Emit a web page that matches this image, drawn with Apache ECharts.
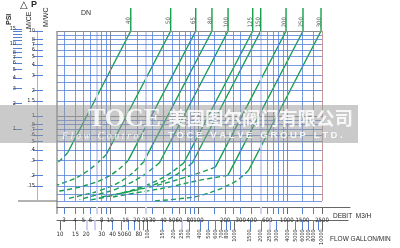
<!DOCTYPE html>
<html>
<head>
<meta charset="utf-8">
<script src="https://cdn.jsdelivr.net/npm/echarts@6/dist/echarts.min.js"></script>
<style>
html, body { margin: 0; padding: 0; background: #fff; }
#chart { width: 400px; height: 248px; }
</style>
</head>
<body>
<div id="chart"></div>
<script>
// valve sizes (DN) and where each curve meets 10 m
const sizes = ['40', '50', '65', '80', '100', '125', '150', '200', '250', '300']
const topFlow = [17.1, 48.4, 93, 142, 216, 411, 506, 979, 1524, 2437]
// end of the solid part [flow m3/h, head m]
const solidEnd = [[3.3, 0.37], [9, 0.35], [16, 0.3], [24, 0.29], [36, 0.28],
  [68, 0.28], [85, 0.28], [155, 0.25], [215, 0.2], [369, 0.23]]
// dashed part
const dashPts = [
  [[2.8, 0.31], [2.5, 0.28]],
  [[6, 0.24], [4, 0.185], [2.5, 0.154]],
  [[10, 0.2], [5, 0.15], [2.5, 0.13]],
  [[15, 0.185], [8, 0.135], [4.5, 0.115], [3.2, 0.106]],
  [[22, 0.19], [12, 0.14], [7, 0.118], [4.5, 0.104]],
  [[40, 0.19], [20, 0.14], [10, 0.115], [6, 0.103]],
  [[50, 0.19], [25, 0.145], [12, 0.12], [7, 0.106]],
  [[96, 0.21], [40, 0.16], [17, 0.13], [8, 0.112]],
  [[99, 0.174], [45, 0.145], [20, 0.125], [10, 0.11]],
  [[257, 0.168], [112, 0.118], [60, 0.106], [30, 0.1]],
]
const labelHead = 14.6
const stemHead = 18.6

// scales
const debitLabels = [3, 4, 5, 6, 8, 10, 15, 20, 25, 30, 40, 50, 60, 80, 100, 200, 300, 400, 600, 1000, 1500, 2500]
const flowBlue = [3, 4, 5, 6, 8, 9, 15, 20, 30, 40, 50, 60, 70, 80, 90, 150, 200, 250, 300, 400, 600, 700, 800, 900, 1500, 2000]
const flowLav = [7, 25, 500]
const flowDark = [10, 100, 1000, 2500]
const gpmFlat = [10, 15, 20, 30, 40, 50, 60, 80]
const gpmRot = [100, 150, 200, 250, 300, 400, 500, 600, 700, 800, 1000, 1500, 2000, 2500, 3000, 4000, 5000, 6000, 7000, 8000, 10000]
const gpmBlue = [15, 30, 40, 50, 60, 70, 80, 90, 150, 200, 300, 400, 500, 600, 700, 800, 900, 1500, 2000, 3000, 4000, 5000, 6000, 7000, 8000, 9000]
const gpmLav = [20, 25, 250, 2500]
const gpmDark = [10, 100, 1000, 10000]
const headBlue = [9, 8, 7, 6, 5, 4, 3, 2.5, 2, 1.5, 0.9, 0.8, 0.7, 0.6, 0.5, 0.4, 0.3, 0.2, 0.15, 0.12, 0.1]
const headDark = [10, 1]
const mceLabels = [10, 8, 7, 6, 5, 4, 3, 2, 1.5, 1, 0.8, 0.7, 0.6, 0.5, 0.4, 0.3, 0.2, 0.15]
const psiLabels = [15, 10, 8, 7, 6, 5, 4, 3, 2, 1]
const psiTicks = [15, 14, 13, 12, 11, 10, 9, 8, 7, 6, 5, 4, 3, 2, 1]

const BLUE = '#5580d6'
const LAV = '#cfd1f0'
const DARK = '#8c8c8c'
const GREEN = '#15a04c'
const TXT = '#2b2b2b'
const FONT = '"Liberation Sans Narrow", "DejaVu Sans Condensed", "Liberation Sans", sans-serif'

const fmt = (v) => (v < 1 ? String(v).replace(/^0/, '') : String(v))

const chart = echarts.init(document.getElementById('chart'))

function logAxis(grid, min, max, extra) {
  return Object.assign({
    type: 'log', gridIndex: grid, min, max, logBase: 10,
    axisLine: { show: false }, axisTick: { show: false },
    axisLabel: { show: false }, splitLine: { show: false },
  }, extra || {})
}
function tickAxis(grid, min, max, vals, color, width, len) {
  return logAxis(grid, min, max, {
    position: 'bottom',
    axisTick: { show: true, customValues: vals, length: len, lineStyle: { color, width } },
  })
}
function lines(key, vals, color, width) {
  return {
    type: 'line', xAxisIndex: 0, yAxisIndex: 0, data: [], silent: true, z: 1,
    markLine: {
      silent: true, symbol: 'none', animation: false,
      label: { show: false },
      lineStyle: { color, width, type: 'solid' },
      data: vals.map((v) => ({ [key]: v })),
    },
  }
}
const dummy = (grid) => ({ type: 'value', gridIndex: grid, show: false, min: 0, max: 1 })

const dMin = 2.5, dMax = 5187
const gMin = 9.24, gMax = 19860

const xAxis = [
  logAxis(0, 2.5, 2500, { position: 'bottom' }),
  dummy(1),
  // DEBIT m3/h axis
  logAxis(2, dMin, dMax, {
    position: 'bottom', offset: 4,
    axisLine: { show: true, lineStyle: { color: '#666', width: 1 } },
    axisLabel: { show: true, customValues: debitLabels, formatter: fmt, margin: 6, fontSize: 6, color: TXT, fontFamily: FONT },
  }),
  tickAxis(2, dMin, dMax, flowBlue, BLUE, 1, 7),
  tickAxis(2, dMin, dMax, flowLav, LAV, 2, 7),
  tickAxis(2, dMin, dMax, flowDark, '#666', 1, 7),
  // gallon / min axis
  logAxis(3, gMin, gMax, {
    position: 'bottom', offset: 5,
    axisLine: { show: true, lineStyle: { color: '#666', width: 1 } },
    axisLabel: { show: true, customValues: gpmFlat, formatter: fmt, margin: 6, fontSize: 6, color: TXT, fontFamily: FONT },
  }),
  logAxis(3, gMin, gMax, {
    position: 'bottom', offset: 5,
    axisLabel: { show: true, customValues: gpmRot, formatter: fmt, margin: 4, rotate: 90, fontSize: 5.5, color: TXT, fontFamily: FONT },
  }),
  tickAxis(3, gMin, gMax, gpmBlue, BLUE, 1, 10),
  tickAxis(3, gMin, gMax, gpmLav, LAV, 2, 10),
  tickAxis(3, gMin, gMax, gpmDark, '#666', 1, 10),
]

const yAxis = [
  logAxis(0, 0.1, 10, { position: 'left' }),
  // M/CE scale
  logAxis(0, 0.1, 10, {
    position: 'left', offset: 20,
    axisLine: { show: true, lineStyle: { color: '#b4b4b4', width: 1 } },
    axisTick: { show: true, customValues: mceLabels, length: 4, lineStyle: { color: BLUE } },
    axisLabel: { show: true, customValues: mceLabels, formatter: fmt, margin: 2, fontSize: 5.5, color: TXT, fontFamily: FONT },
  }),
  logAxis(0, 0.1, 10, {
    position: 'left', offset: 20,
    axisTick: { show: true, inside: true, customValues: mceLabels, length: 6, lineStyle: { color: BLUE } },
  }),
  // PSI scale
  logAxis(1, 0.1422, 16.73, {
    position: 'left',
    axisTick: { show: true, customValues: psiTicks, length: 5, lineStyle: { color: BLUE } },
    axisLabel: { show: true, customValues: psiLabels, formatter: fmt, margin: 2, fontSize: 5.5, color: TXT, fontFamily: FONT },
  }),
  logAxis(1, 0.1422, 16.73, {
    position: 'left',
    axisTick: { show: true, inside: true, customValues: psiTicks, length: 4, lineStyle: { color: BLUE } },
  }),
  dummy(2),
  dummy(3),
]

const series = [
  lines('xAxis', flowBlue, BLUE, 0.8),
  lines('xAxis', flowLav, LAV, 2),
  lines('xAxis', [10, 100, 1000], DARK, 1),
  lines('xAxis', [2500], '#c39a96', 1),
  lines('yAxis', headBlue, BLUE, 0.8),
  lines('yAxis', headDark, DARK, 1),
]

sizes.forEach((dn, i) => {
  series.push({
    type: 'line', xAxisIndex: 0, yAxisIndex: 0, clip: false, silent: true, z: 3,
    showSymbol: false, animation: false,
    lineStyle: { color: GREEN, width: 1.4 },
    data: [[topFlow[i], stemHead], [topFlow[i], 10], solidEnd[i]],
  })
  series.push({
    type: 'line', xAxisIndex: 0, yAxisIndex: 0, clip: false, silent: true, z: 3,
    showSymbol: false, smooth: 0.4, animation: false,
    lineStyle: { color: GREEN, width: 1.4, type: [5, 3] },
    data: [solidEnd[i]].concat(dashPts[i]),
  })
})

series.push({
  type: 'scatter', xAxisIndex: 0, yAxisIndex: 0, clip: false, silent: true,
  symbolSize: 0, animation: false,
  data: sizes.map((dn, i) => [topFlow[i], labelHead, dn]),
  label: {
    show: true, position: 'left', distance: 2, rotate: 90,
    formatter: (p) => p.value[2], fontSize: 6, color: TXT, fontFamily: FONT,
  },
})

const txt = (text, x, y, font, extra) => Object.assign({
  type: 'text', x, y, silent: true, z: 50,
  style: { text, font, fill: TXT },
}, extra || {})
const wm = (text, x, y, font) => ({
  type: 'text', x, y, silent: true, z: 41,
  style: { text, font, fill: 'rgba(255,255,255,0.85)' },
})

chart.setOption({
  animation: false,
  backgroundColor: '#fff',
  grid: [
    { left: 57, top: 31, width: 265, height: 170 },
    { left: 18, top: 25, width: 10, height: 176 },
    { left: 57, top: 197, width: 293, height: 10 },
    { left: 57, top: 216, width: 291, height: 10 },
  ],
  xAxis,
  yAxis,
  series,
  graphic: [
    // frame of the left scales
    { type: 'line', silent: true, shape: { x1: 18, y1: 201, x2: 57, y2: 201 }, style: { stroke: '#666', lineWidth: 1 } },
    { type: 'line', silent: true, shape: { x1: 57, y1: 31, x2: 57, y2: 214 }, style: { stroke: '#666', lineWidth: 1 } },
    txt('△', 20, 0, 'bold 10px "DejaVu Sans"'),
    txt('P', 31, 0, 'bold 9px "Liberation Sans"'),
    txt('PSI', 6, 25, 'bold 7px "Liberation Sans"', { rotation: Math.PI / 2 }),
    txt('M/CE', 26, 29, '7px "Liberation Sans Narrow", "Liberation Sans"', { rotation: Math.PI / 2 }),
    txt('M/WC', 43, 27, '7px "Liberation Sans Narrow", "Liberation Sans"', { rotation: Math.PI / 2 }),
    txt('DN', 81, 10, '7px "Liberation Sans Narrow", "Liberation Sans"'),
    txt('DEBIT  M3/H', 333, 213, '6.5px "Liberation Sans"'),
    txt('FLOW GALLON/MIN', 330, 236, '6.5px "Liberation Sans"'),
    // watermark band
    { type: 'rect', silent: true, z: 40, shape: { x: 0, y: 105, width: 358, height: 38 }, style: { fill: 'rgba(150,150,150,0.5)' } },
    wm('TOCE', 88, 106, 'bold 26px "Liberation Serif"'),
    wm('美国图尔阀门有限公司', 168, 109, 'bold 18.5px "Noto Sans CJK SC"'),
    wm('F l o w   C o n t r o l', 62, 131, 'italic 10px "Liberation Serif"'),
    wm('T O C E   V A L V E   G R O U P   L T D .', 168, 130, 'bold 9.5px "Liberation Sans"'),
  ],
})
</script>
</body>
</html>
